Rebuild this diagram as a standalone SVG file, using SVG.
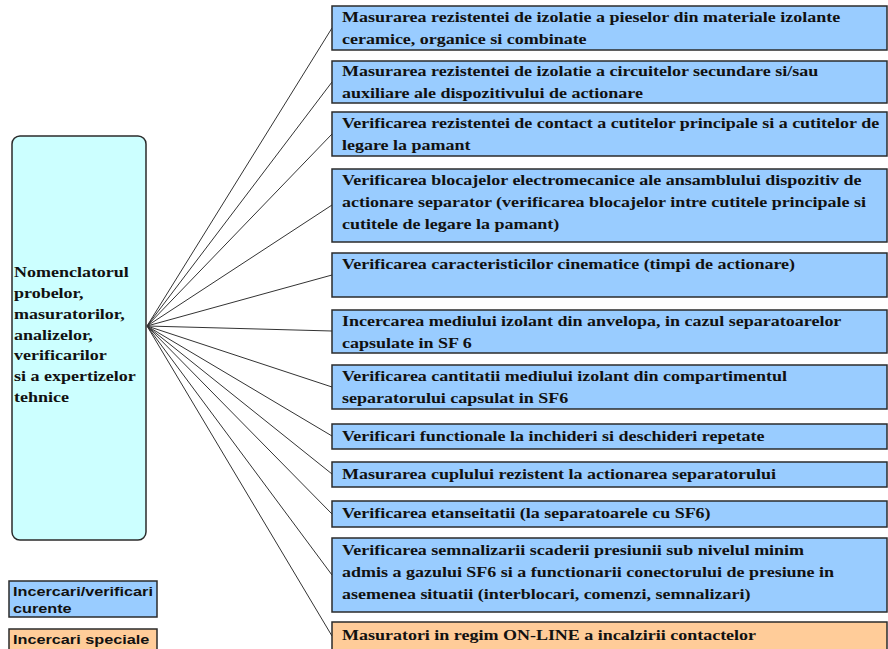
<svg xmlns="http://www.w3.org/2000/svg" width="888" height="649" viewBox="0 0 888 649">
  <style>
    .box { fill: #99CCFF; stroke: #2b2b2b; stroke-width: 1.5; }
    .box-special { fill: #FFCC99; stroke: #2b2b2b; stroke-width: 1.5; }
    .root { fill: #CCFFFF; stroke: #2b2b2b; stroke-width: 1.5; }
    .t { font-family: "Liberation Serif", "Times New Roman", serif; font-weight: bold; font-size: 15px; fill: #111; }
    .lg { font-family: "Liberation Sans", Arial, sans-serif; font-weight: bold; font-size: 13px; fill: #111; }
    .edge { stroke: #333; stroke-width: 1; fill: none; }
  </style>

  <rect width="888" height="649" fill="#ffffff"/>

  <!-- fan of connectors from the root node to each test box -->
  <g id="connectors">
    <line class="edge" x1="147" y1="326" x2="332" y2="28"/>
    <line class="edge" x1="147" y1="326" x2="332" y2="82"/>
    <line class="edge" x1="147" y1="326" x2="332" y2="134"/>
    <line class="edge" x1="147" y1="326" x2="332" y2="205"/>
    <line class="edge" x1="147" y1="326" x2="332" y2="275"/>
    <line class="edge" x1="147" y1="326" x2="332" y2="331"/>
    <line class="edge" x1="147" y1="326" x2="332" y2="387"/>
    <line class="edge" x1="147" y1="326" x2="332" y2="436"/>
    <line class="edge" x1="147" y1="326" x2="332" y2="474"/>
    <line class="edge" x1="147" y1="326" x2="332" y2="514"/>
    <line class="edge" x1="147" y1="326" x2="332" y2="575"/>
    <line class="edge" x1="147" y1="326" x2="332" y2="636"/>
  </g>

  <!-- root node -->
  <g id="root">
    <rect class="root" x="12" y="136" width="134" height="404" rx="8"/>
    <g transform="translate(14 0) scale(1.2 1)" class="t">
      <text x="0" y="277">Nomenclatorul</text>
      <text x="0" y="298">probelor,</text>
      <text x="0" y="319">masuratorilor,</text>
      <text x="0" y="340">analizelor,</text>
      <text x="0" y="360">verificarilor</text>
      <text x="0" y="381">si a expertizelor</text>
      <text x="0" y="402">tehnice</text>
    </g>
  </g>

  <!-- test boxes -->
  <g id="n1">
    <rect class="box" x="332" y="6" width="555" height="44"/>
    <g transform="translate(342 0) scale(1.2 1)" class="t">
      <text x="0" y="22">Masurarea rezistentei de izolatie a pieselor din materiale izolante</text>
      <text x="0" y="44">ceramice, organice si combinate</text>
    </g>
  </g>
  <g id="n2">
    <rect class="box" x="332" y="61" width="555" height="42"/>
    <g transform="translate(342 0) scale(1.2 1)" class="t">
      <text x="0" y="76">Masurarea rezistentei de izolatie a circuitelor secundare si/sau</text>
      <text x="0" y="98">auxiliare ale dispozitivului de actionare</text>
    </g>
  </g>
  <g id="n3">
    <rect class="box" x="332" y="112" width="555" height="44"/>
    <g transform="translate(342 0) scale(1.2 1)" class="t">
      <text x="0" y="128">Verificarea rezistentei de contact a cutitelor principale si a cutitelor de</text>
      <text x="0" y="150">legare la pamant</text>
    </g>
  </g>
  <g id="n4">
    <rect class="box" x="332" y="169" width="555" height="73"/>
    <g transform="translate(342 0) scale(1.2 1)" class="t">
      <text x="0" y="185">Verificarea blocajelor electromecanice ale ansamblului dispozitiv de</text>
      <text x="0" y="207">actionare separator (verificarea blocajelor intre cutitele principale si</text>
      <text x="0" y="229">cutitele de legare la pamant)</text>
    </g>
  </g>
  <g id="n5">
    <rect class="box" x="332" y="253" width="555" height="44"/>
    <g transform="translate(342 0) scale(1.2 1)" class="t">
      <text x="0" y="269">Verificarea caracteristicilor cinematice (timpi de actionare)</text>
    </g>
  </g>
  <g id="n6">
    <rect class="box" x="332" y="310" width="555" height="43"/>
    <g transform="translate(342 0) scale(1.2 1)" class="t">
      <text x="0" y="326">Incercarea mediului izolant din anvelopa, in cazul separatoarelor</text>
      <text x="0" y="348">capsulate in SF 6</text>
    </g>
  </g>
  <g id="n7">
    <rect class="box" x="332" y="365" width="555" height="44"/>
    <g transform="translate(342 0) scale(1.2 1)" class="t">
      <text x="0" y="381">Verificarea cantitatii mediului izolant din compartimentul</text>
      <text x="0" y="403">separatorului capsulat in SF6</text>
    </g>
  </g>
  <g id="n8">
    <rect class="box" x="332" y="424" width="555" height="25"/>
    <g transform="translate(342 0) scale(1.2 1)" class="t">
      <text x="0" y="441">Verificari functionale la inchideri si deschideri repetate</text>
    </g>
  </g>
  <g id="n9">
    <rect class="box" x="332" y="462" width="555" height="25"/>
    <g transform="translate(342 0) scale(1.2 1)" class="t">
      <text x="0" y="479">Masurarea cuplului rezistent la actionarea separatorului</text>
    </g>
  </g>
  <g id="n10">
    <rect class="box" x="332" y="501" width="555" height="26"/>
    <g transform="translate(342 0) scale(1.2 1)" class="t">
      <text x="0" y="518">Verificarea etanseitatii (la separatoarele cu SF6)</text>
    </g>
  </g>
  <g id="n11">
    <rect class="box" x="332" y="538" width="555" height="74"/>
    <g transform="translate(342 0) scale(1.2 1)" class="t">
      <text x="0" y="555">Verificarea semnalizarii scaderii presiunii sub nivelul minim</text>
      <text x="0" y="577">admis a gazului SF6 si a functionarii conectorului de presiune in</text>
      <text x="0" y="599">asemenea situatii (interblocari, comenzi, semnalizari)</text>
    </g>
  </g>
  <g id="n12">
    <rect class="box-special" x="332" y="622" width="555" height="30"/>
    <g transform="translate(342 0) scale(1.2 1)" class="t">
      <text x="0" y="640">Masuratori in regim ON-LINE a incalzirii contactelor</text>
    </g>
  </g>

  <!-- legend -->
  <g id="legend-current">
    <rect class="box" x="9" y="581" width="148" height="36"/>
    <g transform="translate(13 0) scale(1.25 1)" class="lg">
      <text x="0" y="596">Incercari/verificari</text>
      <text x="0" y="613">curente</text>
    </g>
  </g>
  <g id="legend-special">
    <rect class="box-special" x="9" y="629" width="148" height="24"/>
    <g transform="translate(13 0) scale(1.25 1)" class="lg">
      <text x="0" y="644">Incercari speciale</text>
    </g>
  </g>
</svg>
